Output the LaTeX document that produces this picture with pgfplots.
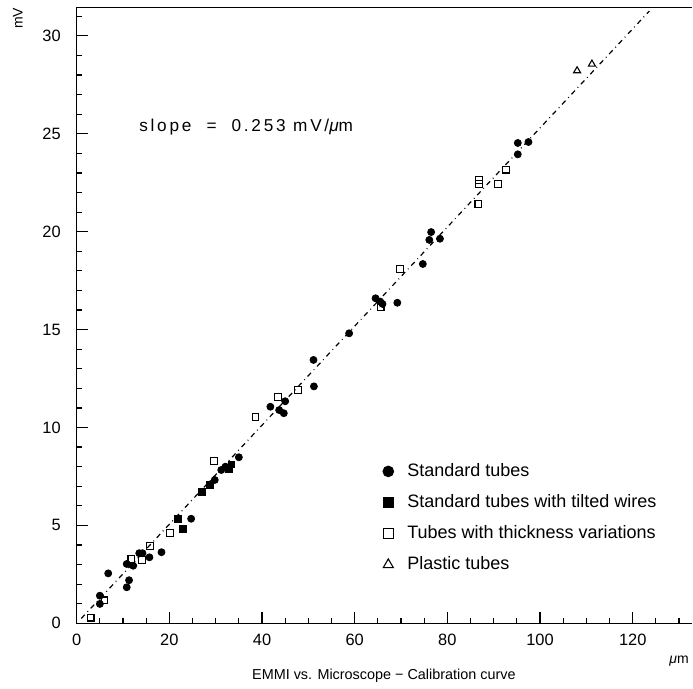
\documentclass[border=0pt]{standalone}
\usepackage{fontspec}
\setmainfont{Liberation Sans}
\usepackage{pgfplots}
\pgfplotsset{compat=1.18}

% EMMI vs microscope calibration: measured points per tube type
\pgfplotstableread{
x y
5.0 0.99
5.0 1.41
6.8 2.55
10.8 1.84
11.3 2.20
10.8 3.03
12.2 2.94
13.5 3.58
14.2 3.58
15.7 3.37
18.3 3.63
24.7 5.34
29.8 7.32
31.2 7.83
32.1 8.00
35.0 8.48
41.8 11.06
43.7 10.89
44.7 10.73
45.0 11.34
51.2 12.10
51.1 13.45
58.8 14.81
64.5 16.60
65.5 16.43
66.0 16.31
69.2 16.37
74.7 18.35
76.1 19.58
76.5 19.98
78.4 19.64
95.2 23.95
95.2 24.53
97.5 24.58
}\standard
\pgfplotstableread{
x y
21.9 5.33
22.9 4.82
27.0 6.71
28.7 7.08
32.9 7.87
33.4 8.12
}\tilted
\pgfplotstableread{
x y
3.0 0.29
6.0 1.17
11.8 3.30
14.1 3.25
15.8 3.93
20.1 4.61
29.7 8.30
38.6 10.52
43.4 11.57
47.8 11.90
65.6 16.15
69.8 18.08
86.7 21.41
86.8 22.64
86.8 22.42
90.9 22.45
92.7 23.17
}\thickness
\pgfplotstableread{
x y
108.0 28.22
111.2 28.56
}\plastic

\begin{document}
\begin{tikzpicture}
\begin{axis}[
    scale only axis,
    width=307.65bp, height=308bp,
    xmin=0, xmax=132.8,
    ymin=0, ymax=31.46,
    axis line style={draw=none},
    clip=false,
    xtick={0,20,...,120},
    ytick={0,5,...,30},
    minor xtick={5,10,...,130},
    minor ytick={1,2,...,31},
    tick align=inside,
    xtick pos=left, ytick pos=left,
    major tick length=5.5bp,
    minor tick length=2.7bp,
    every tick/.style={black, line width=0.6bp},
    /pgf/number format/assume math mode=true,
    ticklabel style={font=\fontsize{8.2bp}{10bp}\selectfont},
    xticklabel style={yshift=-2bp},
    yticklabel style={xshift=-4.5bp},
    legend style={draw=none, fill=none, at={(axis cs:66.0,8.39)}, anchor=north west,
        font=\fontsize{9bp}{11bp}\selectfont, row sep=3.55bp, inner sep=0pt},
    legend cell align=left,
    legend image code/.code={
        \path[draw=none, fill=none] (0bp,-3bp) rectangle (7.5bp,3bp);
        \draw[#1] plot coordinates {(0bp,0bp)};
    },
]
\draw[line width=0.7bp] (rel axis cs:0,1) -- (rel axis cs:0,0) -- (rel axis cs:1,0);
\draw[line width=0.7bp] (rel axis cs:0,1) -- (rel axis cs:1,1);

\addplot[only marks, mark=*, mark size=1.75bp, black,
    legend image post style={mark size=2.7bp}] table {\standard};
\addlegendentry{Standard tubes}
\addplot[only marks, mark=square*, mark size=1.7bp, black,
    legend image post style={mark size=2.5bp}] table {\tilted};
\addlegendentry{Standard tubes with tilted wires}
\addplot[only marks, mark=square, mark size=1.7bp, black, mark options={line width=0.55bp},
    legend image post style={mark size=2.5bp}] table {\thickness};
\addlegendentry{Tubes with thickness variations}
\addplot[only marks, mark=triangle, mark size=2bp, black, mark options={line width=0.55bp},
    legend image post style={mark size=2.9bp}] table {\plastic};
\addlegendentry{Plastic tubes}

% fitted calibration line, slope 0.253
\addplot[black, line width=0.6bp, dash pattern=on 2.5bp off 2bp on 0.4bp off 2bp, forget plot]
    coordinates {(1.0,0.25) (123.6,31.27)};

\node[anchor=west, font=\fontsize{8.6bp}{11bp}\selectfont\addfontfeature{LetterSpace=16}]
    at (axis cs:12.0,25.35) {slope\ \ =\ \ 0.253\ mV/{\itshape μ}m};
\node[rotate=90, font=\fontsize{7bp}{9bp}\selectfont] at (axis cs:-12.7,30.9) {mV};
\node[font=\fontsize{7bp}{9bp}\selectfont] at (axis cs:130.0,-1.93) {{\itshape μ}m};
\node[font=\fontsize{7.2bp}{9bp}\selectfont] at (axis cs:66.3,-2.7)
    {EMMI vs. Microscope − Calibration curve};
\end{axis}
\pgfresetboundingbox
\path (-38.35bp,-32.85bp) rectangle (308.15bp,311.65bp);
\end{tikzpicture}
\end{document}
